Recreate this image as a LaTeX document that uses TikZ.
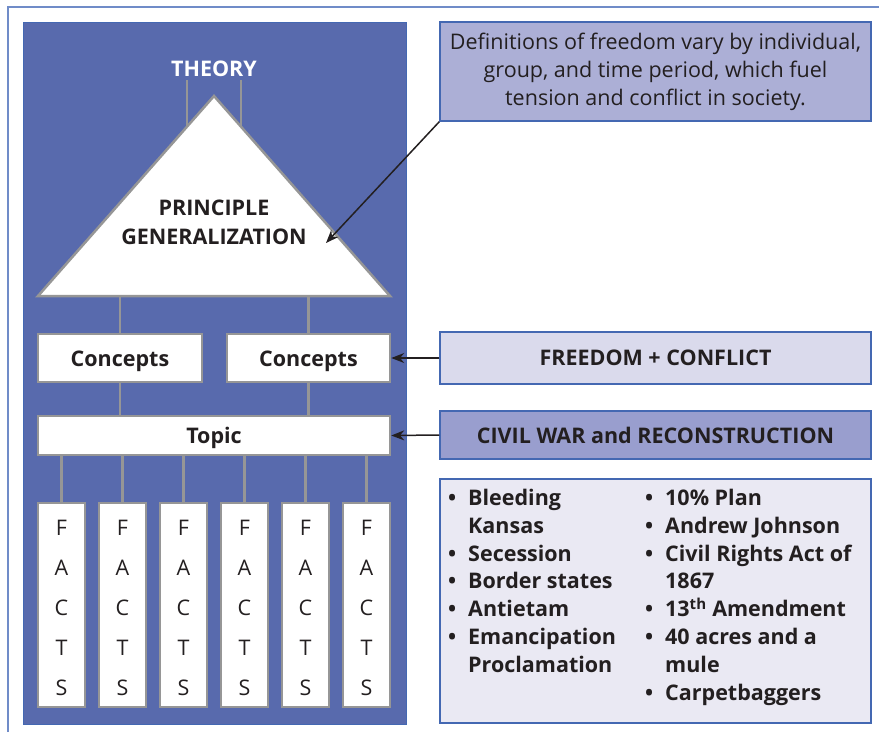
\documentclass[tikz,border=0pt]{standalone}
\usepackage{fontspec}
\setmainfont{Open Sans}
\usetikzlibrary{arrows.meta,calc}

\definecolor{panelblue}{RGB}{88,106,173}
\definecolor{edgeblue}{RGB}{68,104,178}
\definecolor{frameblue}{RGB}{112,140,200}
\definecolor{linegray}{RGB}{150,150,150}
\definecolor{ink}{RGB}{35,31,32}
\definecolor{defnfill}{RGB}{172,175,214}
\definecolor{freefill}{RGB}{218,218,236}
\definecolor{warfill}{RGB}{153,158,206}
\definecolor{listfill}{RGB}{234,233,243}

\newcommand\bul[1]{\makebox[20pt][l]{\textbullet}#1}
\newcommand\more[1]{\hspace*{20pt}#1}

\tikzset{
  link/.style={draw=linegray, line width=2.5pt},
  graybox/.style={draw=linegray, line width=2.5pt, fill=white, inner sep=0pt,
    text height=16pt, text depth=0pt,
    text=ink, font=\bfseries\fontsize{21.5}{22}\selectfont},
  factbox/.style={graybox, minimum width=47, minimum height=204, align=center,
    text height=, text depth=, font=\fontsize{21.5}{40}\selectfont},
  sidebox/.style={draw=edgeblue, line width=1.5pt, inner sep=0pt, text=ink,
    minimum width=431, font=\bfseries\fontsize{21.5}{22}\selectfont},
  pointer/.style={-{Stealth[length=13pt,width=10pt]}, line width=1.5pt, ink},
}

\begin{document}
\begin{tikzpicture}[x=1pt,y=-1pt]
	\useasboundingbox (0,0) rectangle (879,732);
	%
	\def\factgap{61}
	\def\factx{61.5}
	% frame and panel
		\draw[frameblue, line width=2pt] (8,732) -- (8,7) -- (879,7);
		\draw[edgeblue, fill=panelblue, line width=1pt] (23,22) rectangle (406,724);
	% triangle
		\coordinate (apex) at (214,96);
		\coordinate (bl) at (38,296);
		\coordinate (br) at (390,296);
		\draw[link, fill=white, line join=miter] (bl) -- (apex) -- (br) -- cycle;
		\node[white, font=\bfseries\fontsize{21.5}{22}\selectfont] (theory) at (214,69) {THEORY};
		\coordinate (tl) at ($(apex)!0.153!(bl)$);
		\coordinate (tr) at ($(apex)!0.153!(br)$);
		\draw[link] (tl) -- (tl |- theory.south)
			(tr) -- (tr |- theory.south);
		\node[text=ink, align=center, font=\bfseries\fontsize{21.5}{29}\selectfont] (prin) at (214,222) {PRINCIPLE\\GENERALIZATION};
	% concepts and topic
		\node[graybox, minimum width=164, minimum height=48] (cL) at (120,358) {Concepts};
		\node[graybox, minimum width=163, minimum height=48] (cR) at (308.5,358) {Concepts};
		\node[graybox, minimum width=352, minimum height=39] (topic) at (214,435.5) {Topic};
		\foreach \c in {cL,cR}
			\draw[link] (\c.north) -- (\c.north |- bl)
				(\c.south) -- (\c.south |- topic.north);
	% facts
		\foreach \i in {0,...,5}
		{
			\node[factbox] (f\i) at (\factx+\factgap*\i,605) {};
			\node[align=center, text=ink, inner sep=0pt, font=\fontsize{21.5}{40}\selectfont] (t\i) at (f\i.center) [yshift=-3pt] {F\\A\\C\\T\\S};
			\draw[link] (f\i.north) -- (f\i.north |- topic.south);
		}
	% right side
		\node[sidebox, fill=defnfill, minimum height=99, align=center,
			font=\fontsize{21.5}{28}\selectfont] (defn) at (655.5,71.5)
			{Definitions of freedom vary by individual,\\group, and time period, which fuel\\tension and conflict in society.};
		\node[sidebox, fill=freefill, minimum height=52] (freedom) at (655.5,358) {FREEDOM + CONFLICT};
		\node[sidebox, fill=warfill, minimum height=48] (war) at (655.5,435) {CIVIL WAR and RECONSTRUCTION};
		\node[sidebox, fill=listfill, minimum height=244] (list) at (655.5,601) {};
		\node[anchor=north west, align=left, inner sep=0pt, text=ink,
			font=\bfseries\fontsize{21.5}{27.8}\selectfont] (leftcol) at (448,489)
			{\bul{Bleeding}\\\more{Kansas}\\\bul{Secession}\\\bul{Border states}\\\bul{Antietam}\\\bul{Emancipation}\\\more{Proclamation}};
		\node[anchor=north west, align=left, inner sep=0pt, text=ink,
			font=\bfseries\fontsize{21.5}{27.8}\selectfont] (rightcol) at (645,489)
			{\bul{10\% Plan}\\\bul{Andrew Johnson}\\\bul{Civil Rights Act of}\\\more{1867}\\\bul{13\textsuperscript{th} Amendment}\\\bul{40 acres and a}\\\more{mule}\\\bul{Carpetbaggers}};
	% arrows
		\coordinate (tgt) at (326,243);
		\draw[pointer] (defn.south west) -- (tgt);
		\draw[pointer] (freedom.west) -- (cR.east);
		\draw[pointer] (war.west) -- (topic.east);
\end{tikzpicture}
\end{document}
